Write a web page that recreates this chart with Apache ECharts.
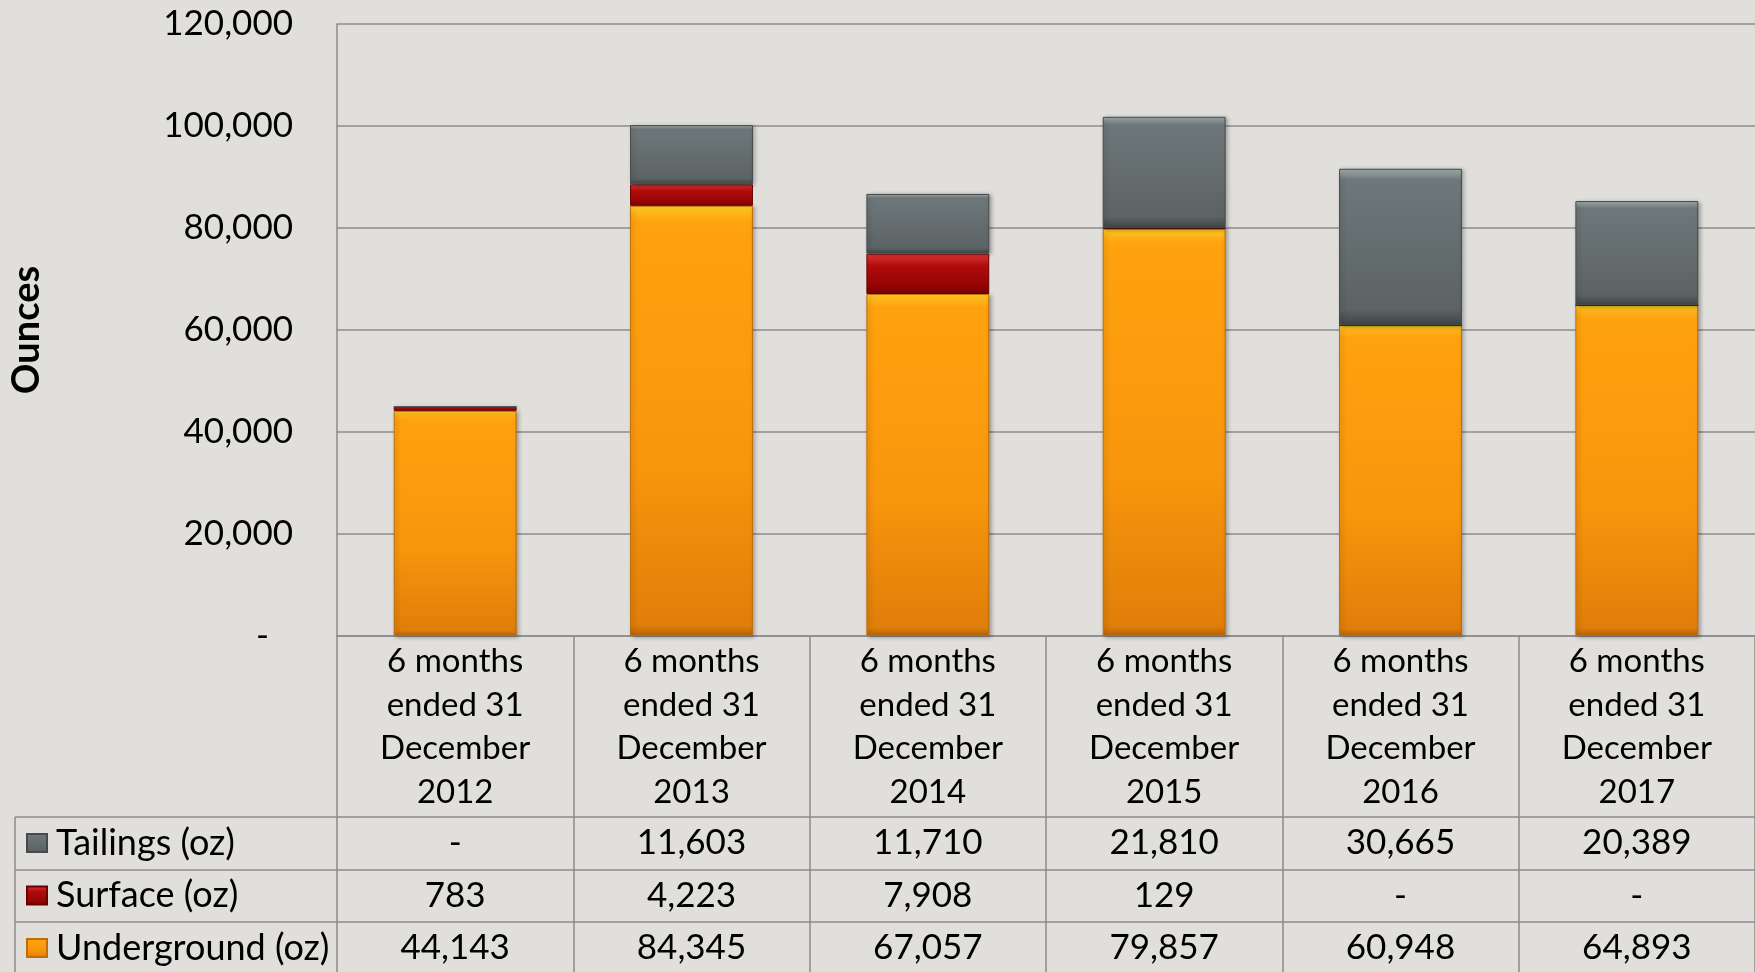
<!DOCTYPE html>
<html>
<head>
<meta charset="utf-8">
<script src="https://cdn.jsdelivr.net/npm/echarts@6/dist/echarts.min.js"></script>
<style>
  html, body { margin: 0; padding: 0; background: #e1dfdb; }
  #chart { width: 1755px; height: 972px; }
</style>
</head>
<body>
<div id="chart"></div>
<script>
var categories = [
    '6 months\nended 31\nDecember\n2012',
    '6 months\nended 31\nDecember\n2013',
    '6 months\nended 31\nDecember\n2014',
    '6 months\nended 31\nDecember\n2015',
    '6 months\nended 31\nDecember\n2016',
    '6 months\nended 31\nDecember\n2017'
];
var tailings = [0, 11603, 11710, 21810, 30665, 20389];
var surface = [783, 4223, 7908, 129, 0, 0];
var underground = [44143, 84345, 67057, 79857, 60948, 64893];
var seriesNames = ['Tailings (oz)', 'Surface (oz)', 'Underground (oz)'];
var yMin = 0, yMax = 120000, yStep = 20000;

var lineGray = '#8c8c8c';
var font = 'Lato';

// table geometry (px)
var plotLeft = 337, plotTop = 24, axisY = 636;
var rowLines = [817, 870, 922];

function fmt(v) {
    return v === 0 ? '-' : v.toLocaleString('en-US');
}

function grad(stops) {
    return new echarts.graphic.LinearGradient(0, 0, 0, 1, stops.map(function (s) {
        return {offset: s[0], color: s[1]};
    }));
}

var orangeFill = grad([[0, '#ffd81c'], [0.018, '#ffb21a'], [0.04, '#ffa20e'], [0.6, '#f8960c'], [0.975, '#e07e0a'], [1, '#b86406']]);
var redFill = grad([[0, '#e23838'], [0.3, '#b00c0c'], [0.8, '#950404'], [1, '#6e0000']]);
var grayFill = grad([[0, '#a6b1b2'], [0.07, '#6e7779'], [0.9, '#5b6365'], [1, '#3f4546']]);

var chart = echarts.init(document.getElementById('chart'));

function tableAxis(values, offset) {
    return {
        type: 'category',
        gridIndex: 0,
        position: 'bottom',
        offset: offset,
        data: categories,
        axisLine: {show: true, lineStyle: {color: lineGray, width: 1.5}},
        axisTick: {show: false},
        axisLabel: {
            interval: 0,
            margin: 26,
            verticalAlign: 'middle',
            color: '#000',
            fontFamily: font,
            fontSize: 35,
            formatter: function (v, i) { return fmt(values[i]); }
        }
    };
}

var option = {
    backgroundColor: '#e1dfdb',
    animation: false,
    textStyle: {fontFamily: font},
    grid: {
        left: plotLeft,
        right: 0,
        top: plotTop,
        bottom: 972 - axisY,
        containLabel: false,
        outerBoundsMode: 'none'
    },
    legend: {
        data: seriesNames,
        orient: 'vertical',
        left: 26,
        top: 825,
        height: 300,
        padding: 0,
        itemWidth: 20,
        itemHeight: 18,
        itemGap: 16.5,
        selectedMode: false,
        icon: 'rect',
        textStyle: {
            color: '#000',
            fontFamily: font,
            fontSize: 36,
            lineHeight: 36,
            padding: [0, 0, 0, 4]
        }
    },
    xAxis: [
        {
            type: 'category',
            data: categories,
            axisLine: {show: true, lineStyle: {color: lineGray, width: 1.5}},
            axisTick: {show: true, interval: 0, length: 340, lineStyle: {color: lineGray, width: 1.5}},
            axisLabel: {
                interval: 0,
                margin: 91,
                verticalAlign: 'middle',
                lineHeight: 43.5,
                color: '#000',
                fontFamily: font,
                fontSize: 33
            }
        },
        tableAxis(tailings, rowLines[0] - axisY),
        tableAxis(surface, rowLines[1] - axisY),
        tableAxis(underground, rowLines[2] - axisY)
    ],
    yAxis: {
        type: 'value',
        min: yMin,
        max: yMax,
        interval: yStep,
        name: 'Ounces',
        nameLocation: 'middle',
        nameRotate: 90,
        nameGap: 291,
        nameTextStyle: {color: '#000', fontFamily: font, fontSize: 38, fontWeight: 'bold'},
        axisLine: {show: true, lineStyle: {color: lineGray, width: 1.5}},
        axisTick: {show: false},
        splitLine: {lineStyle: {color: lineGray, width: 1.5}},
        axisLabel: {
            margin: 44,
            color: '#000',
            fontFamily: font,
            fontSize: 35,
            formatter: function (v) {
                return v === 0 ? '{z|-}' : fmt(v);
            },
            rich: {z: {fontFamily: font, fontSize: 35, color: '#000', padding: [0, 24, 0, 0]}}
        }
    },
    series: [
        {
            name: 'Underground (oz)',
            type: 'bar',
            stack: 'oz',
            barWidth: '52%',
            data: underground,
            itemStyle: {color: orangeFill, borderColor: '#c06c08', borderWidth: 1,
                shadowBlur: 4, shadowColor: 'rgba(0,0,0,0.3)', shadowOffsetX: 2, shadowOffsetY: 1}
        },
        {
            name: 'Surface (oz)',
            type: 'bar',
            stack: 'oz',
            data: surface,
            itemStyle: {color: redFill, borderColor: '#6a0000', borderWidth: 1}
        },
        {
            name: 'Tailings (oz)',
            type: 'bar',
            stack: 'oz',
            data: tailings,
            itemStyle: {color: grayFill, borderColor: '#454b4c', borderWidth: 1,
                shadowBlur: 4, shadowColor: 'rgba(0,0,0,0.3)', shadowOffsetX: 2, shadowOffsetY: 1}
        }
    ],
    graphic: [
        // frame of the row-name column of the data table
        {type: 'line', shape: {x1: 15, y1: rowLines[0], x2: plotLeft, y2: rowLines[0]}, style: {stroke: lineGray, lineWidth: 1.5}},
        {type: 'line', shape: {x1: 15, y1: rowLines[1], x2: plotLeft, y2: rowLines[1]}, style: {stroke: lineGray, lineWidth: 1.5}},
        {type: 'line', shape: {x1: 15, y1: rowLines[2], x2: plotLeft, y2: rowLines[2]}, style: {stroke: lineGray, lineWidth: 1.5}},
        {type: 'line', shape: {x1: 15, y1: rowLines[0], x2: 15, y2: 972}, style: {stroke: lineGray, lineWidth: 1.5}}
    ]
};
chart.setOption(option);
</script>
</body>
</html>
